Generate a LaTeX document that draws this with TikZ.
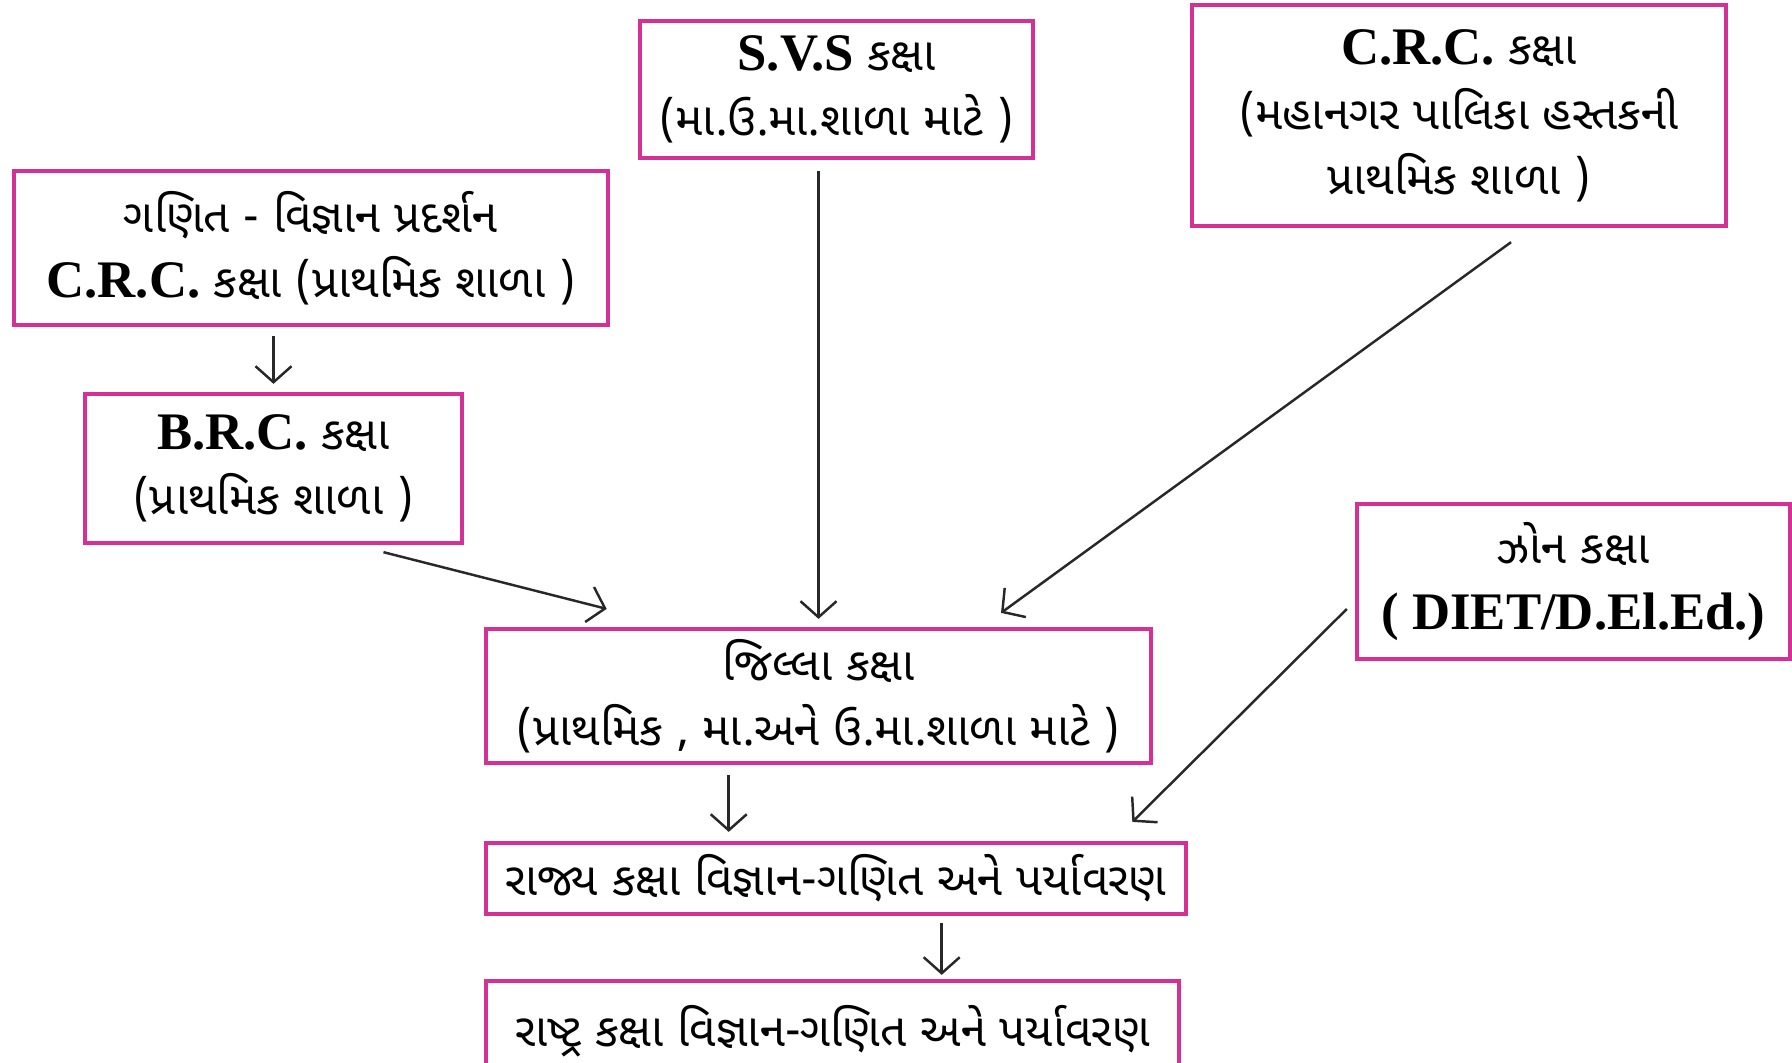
\documentclass[tikz,border=0pt]{standalone}
\usepackage{fontspec}
\setmainfont{Liberation Serif}
\newfontfamily\guj[Script=Gujarati,Scale=0.87]{Noto Sans Gujarati UI}
\usepackage{tikz}
\usetikzlibrary{arrows.meta,positioning,calc}
\definecolor{boxpink}{RGB}{212,48,150}
\definecolor{arrowgray}{RGB}{40,40,40}
\tikzstyle{level}=[draw=boxpink,line width=1.2pt,rectangle,align=center,inner sep=0pt,font=\fontsize{15}{18.5}\selectfont]
\tikzstyle{arr}=[draw=arrowgray,line width=0.7pt,-{Straight Barb[length=1.6mm,width=3.6mm]}]

\begin{document}
\begin{tikzpicture}[x=0.01cm,y=-0.01cm]
\useasboundingbox[fill=white] (0,0) rectangle (1792,1062);
\node [level,minimum width=5.94cm,minimum height=1.54cm] (gms) at (311,248)
  {\guj ગણિત - વિજ્ઞાન પ્રદર્શન\\\textbf{C.R.C.} {\guj કક્ષા (પ્રાથમિક શાળા )}};
\node [level,minimum width=3.77cm,minimum height=1.49cm] (brc) at (273.5,468.5)
  {\textbf{B.R.C.} {\guj કક્ષા}\\{\guj (પ્રાથમિક શાળા )}};
\node [level,minimum width=3.93cm,minimum height=1.37cm] (svs) at (836.5,89.5)
  {\textbf{S.V.S} {\guj કક્ષા}\\{\guj (મા.ઉ.મા.શાળા માટે )}};
\node [level,minimum width=5.34cm,minimum height=2.21cm] (crcm) at (1459,115.5)
  {\textbf{C.R.C.} {\guj કક્ષા}\\{\guj (મહાનગર પાલિકા હસ્તકની}\\{\guj પ્રાથમિક શાળા )}};
\node [level,minimum width=4.33cm,minimum height=1.55cm] (zone) at (1573.5,581.5)
  {\guj ઝોન કક્ષા\\\textbf{( DIET/D.El.Ed.)}};
\node [level,minimum width=6.65cm,minimum height=1.34cm] (district) at (818.5,696)
  {\guj જિલ્લા કક્ષા\\{\guj (પ્રાથમિક , મા.અને ઉ.મા.શાળા માટે )}};
\node [level,minimum width=7.00cm,minimum height=0.71cm] (state) at (836,878.5)
  {\guj રાજ્ય કક્ષા વિજ્ઞાન-ગણિત અને પર્યાવરણ};
\node [level,minimum width=6.93cm,minimum height=1.00cm] (national) at (832.5,1031)
  {\guj રાષ્ટ્ર કક્ષા વિજ્ઞાન-ગણિત અને પર્યાવરણ};

\draw [arr,shorten <=0.09cm,shorten >=0.08cm] (gms.south -| brc.north) -- (brc.north);
\draw [arr] ($(brc.south)+(110,7)$) -- ($(district.north west)+(123,-18)$);
\draw [arr,shorten <=0.11cm,shorten >=0.08cm] (svs.south -| district.north) -- (district.north);
\draw [arr] ($(crcm.south)+(52,14)$) -- ($(district.north)+(182.5,-14)$);
\draw [arr] ($(zone.west)+(-8,27.5)$) -- ($(state.north east)+(-56,-19)$);
\draw [arr,shorten >=0.09cm] ($(district.south west)+(245,10)$) coordinate (d1) -- (d1 |- state.north);
\draw [arr,shorten >=0.04cm] ($(state.south west)+(458,7)$) coordinate (s1) -- (s1 |- national.north);
\end{tikzpicture}
\end{document}
